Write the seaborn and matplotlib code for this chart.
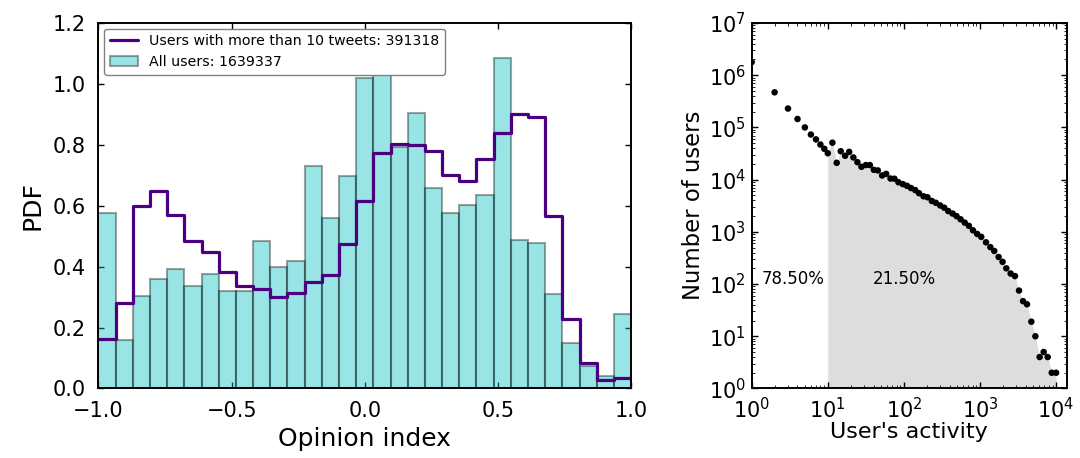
import numpy as np
import pandas as pd
import matplotlib
matplotlib.use("Agg")
import matplotlib.pyplot as plt
from matplotlib.lines import Line2D
from matplotlib.patches import Patch
import seaborn as sns

# ---------------- data ----------------
n_bins = 31
opinion_range = (-1.0, 1.0)
all_users_pdf = [0.575, 0.158, 0.303, 0.361, 0.392, 0.338, 0.377, 0.320, 0.320, 0.485,
                 0.399, 0.419, 0.731, 0.561, 0.698, 1.021, 1.037, 0.794, 0.903, 0.659,
                 0.575, 0.602, 0.634, 1.084, 0.487, 0.478, 0.310, 0.150, 0.075, 0.040,
                 0.243]
active_users_pdf = [0.162, 0.280, 0.600, 0.650, 0.570, 0.485, 0.447, 0.382, 0.337, 0.328,
                    0.300, 0.313, 0.351, 0.373, 0.475, 0.616, 0.774, 0.803, 0.800, 0.780,
                    0.702, 0.681, 0.753, 0.840, 0.901, 0.892, 0.567, 0.227, 0.085, 0.028,
                    0.034]
label_active = "Users with more than 10 tweets: 391318"
label_all = "All users: 1639337"

activity = [1, 2, 3, 4, 5, 6, 7, 8, 9, 10,
            11.5, 13.1, 14.8, 16.9, 19.1, 21.7, 24.5, 27.7, 31.6, 35.7,
            40.3, 45.5, 51.8, 58.5, 66.7, 75.2, 84.9, 97, 110, 124,
            141, 158, 181, 204, 233, 263, 300, 339, 383, 437,
            492, 556, 631, 716, 809, 920, 1040, 1200, 1368, 1542,
            1758, 1982, 2218, 2529, 2884, 3258, 3681, 4150, 4732, 5346,
            6081, 6871, 7762, 8770, 10000]
n_users = [1.78e6, 4.7e5, 2.3e5, 1.45e5, 1.0e5, 7.3e4, 5.9e4, 4.7e4, 3.9e4, 3.2e4,
           5.1e4, 2.1e4, 3.5e4, 2.86e4, 3.4e4, 2.66e4, 2.16e4, 1.76e4, 1.9e4, 1.9e4,
           1.54e4, 1.5e4, 1.2e4, 1.29e4, 1.05e4, 1.04e4, 8.9e3, 8.2e3, 7.6e3, 6.9e3,
           6.3e3, 5.5e3, 4.8e3, 4.6e3, 3.9e3, 3.6e3, 3.2e3, 2.9e3, 2.5e3, 2.24e3,
           2.0e3, 1.74e3, 1.5e3, 1.3e3, 1.07e3, 910, 800, 630, 510, 430,
           330, 266, 200, 159, 142, 75, 47, 41, 19, 10,
           4, 5, 4, 2, 2]
threshold = 10
pct_low = "78.50%"
pct_high = "21.50%"

# ---------------- style ----------------
sns.set_style("ticks", {"xtick.direction": "in", "ytick.direction": "in",
                        "axes.edgecolor": "black", "text.color": "black",
                        "xtick.color": "black", "ytick.color": "black",
                        "axes.labelcolor": "black"})
plt.rcParams["font.family"] = ["DejaVu Sans"]
plt.rcParams["xtick.top"] = True
plt.rcParams["ytick.right"] = True
plt.rcParams["axes.linewidth"] = 1.4
plt.rcParams["xtick.major.size"] = 4.5
plt.rcParams["ytick.major.size"] = 4.5
plt.rcParams["xtick.minor.size"] = 2.2
plt.rcParams["ytick.minor.size"] = 2.2
plt.rcParams["xtick.major.width"] = 1.0
plt.rcParams["ytick.major.width"] = 1.0
plt.rcParams["mathtext.default"] = "regular"

fig = plt.figure(figsize=(10.8, 4.58), dpi=100)
ax1 = fig.add_axes([0.0912, 0.1518, 0.4931, 0.798])
ax2 = fig.add_axes([0.696, 0.1518, 0.2917, 0.798])

# ---------------- left: histograms ----------------
edges = np.linspace(opinion_range[0], opinion_range[1], n_bins + 1)
centers = (edges[:-1] + edges[1:]) / 2
df = pd.DataFrame({"opinion": centers, "all": all_users_pdf, "active": active_users_pdf})

sns.histplot(data=df, x="opinion", weights="all", bins=n_bins, binrange=opinion_range,
             stat="count", element="bars", fill=True, color="c", alpha=0.4,
             edgecolor=(0, 0, 0, 0.36), linewidth=1.5, ax=ax1)
sns.histplot(data=df, x="opinion", weights="active", bins=n_bins, binrange=opinion_range,
             stat="count", element="step", fill=False, color="#4b0082",
             linewidth=2.3, ax=ax1)

ax1.set_xlim(-1, 1)
ax1.set_ylim(0, 1.2)
ax1.set_xticks([-1.0, -0.5, 0.0, 0.5, 1.0])
ax1.set_yticks(np.arange(0, 1.21, 0.2))
ax1.tick_params(axis="both", labelsize=15, pad=9)
ax1.set_xlabel("Opinion index", fontsize=18, labelpad=4)
ax1.set_ylabel("PDF", fontsize=18, labelpad=6)

handles = [Line2D([], [], color="#4b0082", lw=2.3),
           Patch(facecolor=(0, 0.75, 0.75, 0.4), edgecolor=(0, 0, 0, 0.36), lw=1.5)]
leg = ax1.legend(handles, [label_active, label_all], loc="upper left", fontsize=10.2,
                 frameon=True, fancybox=True, edgecolor="0.5", framealpha=1,
                 borderaxespad=0.4, handlelength=2.0)
leg.get_frame().set_linewidth(1.0)

# ---------------- right: activity distribution ----------------
dfa = pd.DataFrame({"activity": activity, "users": n_users})
sel = dfa[dfa["activity"] >= threshold]
ax2.fill_between(sel["activity"], sel["users"], 1, color="#dddddd", lw=0, zorder=0)
sns.scatterplot(data=dfa, x="activity", y="users", color="black", s=22,
                edgecolor="none", ax=ax2, zorder=3)
ax2.set_xscale("log")
ax2.set_yscale("log")
ax2.set_xlim(1, 1.38e4)
ax2.set_ylim(1, 1e7)
ax2.tick_params(axis="x", which="major", labelsize=15, pad=6)
ax2.tick_params(axis="y", which="major", labelsize=15, pad=4)
ax2.set_xlabel("User's activity", fontsize=16, labelpad=0)
ax2.set_ylabel("Number of users", fontsize=16.4, labelpad=3)
ax2.text(3.5, 125, pct_low, ha="center", va="center", fontsize=12)
ax2.text(100, 125, pct_high, ha="center", va="center", fontsize=12)

fig.savefig("out.png", dpi=100)
